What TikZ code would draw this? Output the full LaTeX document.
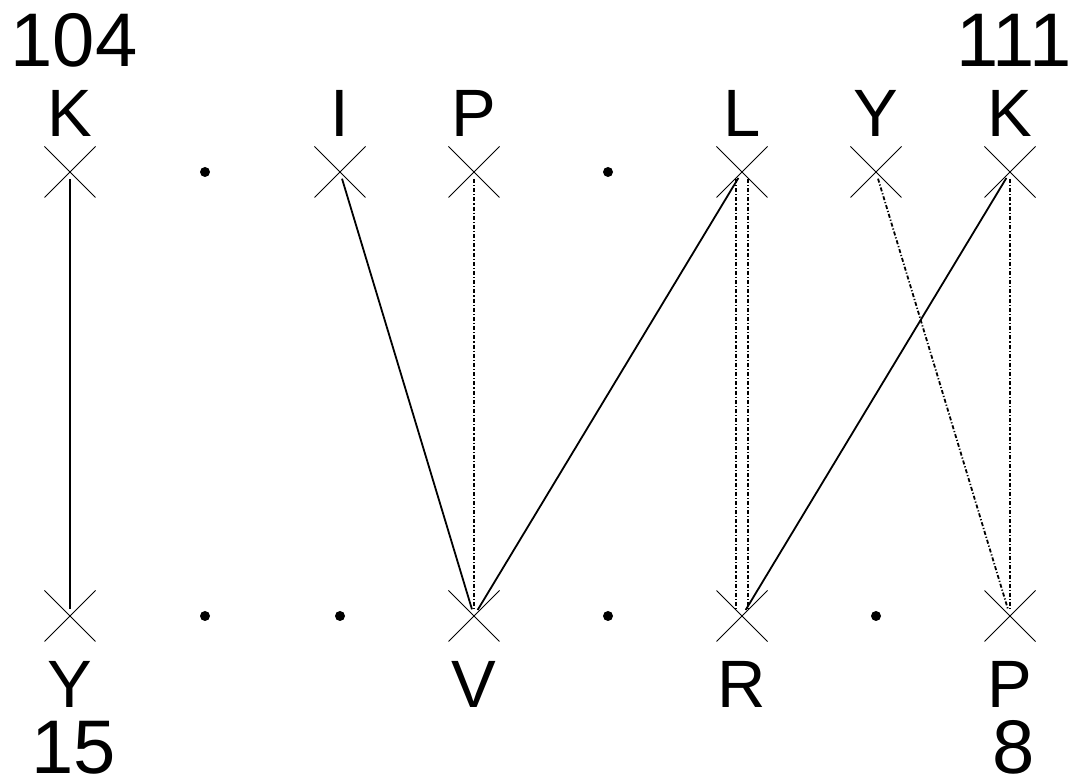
\documentclass[tikz,border=0pt]{standalone}
\usepackage{fontspec}
\setmainfont{Liberation Sans}
\usetikzlibrary{positioning,shapes.misc}

\begin{document}
\begin{tikzpicture}[
  x=0.5pt, y=-0.5pt,
  mk/.style={draw, cross out, minimum size=25pt, inner sep=0pt, line width=0.5pt},
  gap/.style={circle, fill, inner sep=0pt, minimum size=5pt},
  res/.style={inner sep=0pt, font=\fontsize{33.5}{36}\selectfont},
  num/.style={inner sep=0pt, xshift=2pt, font=\fontsize{38}{42}\selectfont},
  aln/.style={line width=0.9pt, shorten <=3.5pt, shorten >=3.5pt},
  alt/.style={aln, dash pattern=on 2pt off 1pt on 0.6pt off 1pt},
]
\useasboundingbox (0,0) rectangle (1072,779);

% top row
\foreach \i/\x in {1/70,3/340,4/474,6/742,7/876,8/1010} { \node[mk] (t\i) at (\x,172) {}; }
\foreach \i/\x in {2/205,5/608} { \node[gap] (t\i) at (\x,172) {}; }
\node[res, above=5pt of t1, anchor=base] (a1) {K};
\node[res, above=5pt of t3, anchor=base] (a3) {I};
\node[res, above=5pt of t4, anchor=base] (a4) {P};
\node[res, above=5pt of t6, anchor=base] (a6) {L};
\node[res, above=5pt of t7, anchor=base] (a7) {Y};
\node[res, above=5pt of t8, anchor=base] (a8) {K};
\node[num, above=35pt of a1.base, anchor=base] (na) {104};
\node[num, above=35pt of a8.base, anchor=base] (nb) {111};

% bottom row
\foreach \i/\x in {1/70,4/474,6/742,8/1010} { \node[mk] (b\i) at (\x,616) {}; }
\foreach \i/\x in {2/205,3/340,5/608,7/876} { \node[gap] (b\i) at (\x,616) {}; }
\node[res, below=33pt of b1, anchor=base] (c1) {Y};
\node[res, below=33pt of b4, anchor=base] (c4) {V};
\node[res, below=33pt of b6, anchor=base] (c6) {R};
\node[res, below=33pt of b8, anchor=base] (c8) {P};
\node[num, below=32.8pt of c1.base, anchor=base] (nc) {15};
\node[num, below=32.8pt of c8.base, anchor=base] (nd) {8};

% alignment
\draw[aln] (t1.center) -- (b1.center);
\draw[aln] (t3.center) -- (b4.center);
\draw[alt] (t4.center) -- (b4.center);
\draw[aln] (t6.center) -- (b4.center);
\draw[alt] ([xshift=-3pt]t6.center) -- ([xshift=-3pt]b6.center);
\draw[alt] ([xshift=3pt]t6.center) -- ([xshift=3pt]b6.center);
\draw[aln] (t8.center) -- (b6.center);
\draw[alt] (t7.center) -- (b8.center);
\draw[alt] (t8.center) -- (b8.center);
\end{tikzpicture}
\end{document}
